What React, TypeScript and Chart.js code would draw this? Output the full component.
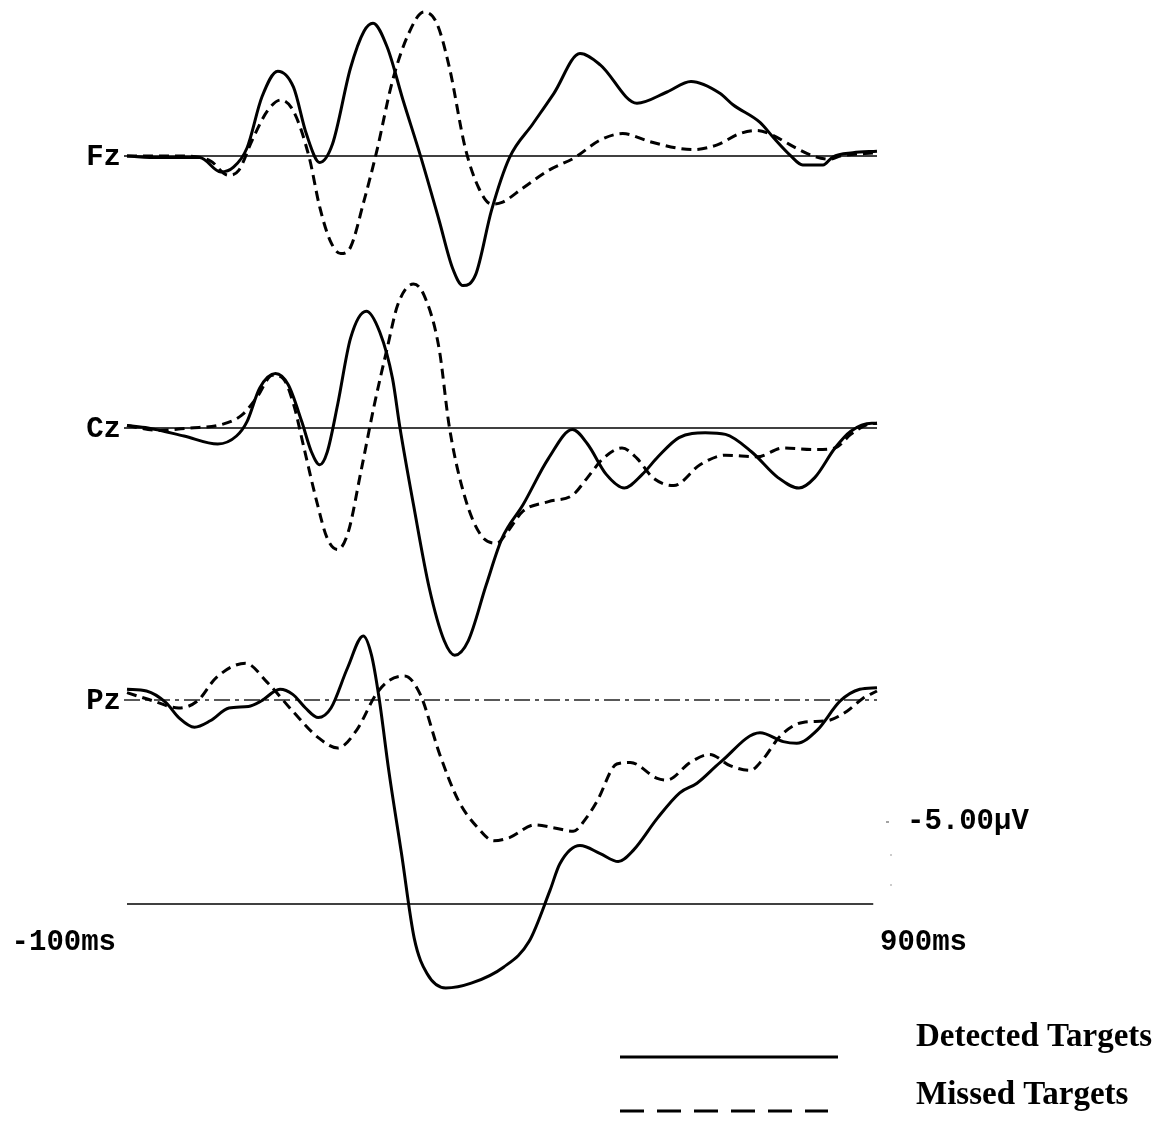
import React, { useEffect, useRef } from "react";
import { Chart, registerables } from "chart.js";

Chart.register(...registerables);

// ---- labels ----
const channels = ["Fz", "Cz", "Pz"];
const channelOffsets = [0, 17, 34]; // µV offsets used to stack the channels
const timeAxisLevel = 46.75; // µV level of the time axis line
const calibrationUV = 5;
const calibrationLabel = "-5.00µV";
const timeStart = -100;
const timeEnd = 900;
const timeTickLabels = ["-100ms", "900ms"];
const legendLabels = ["Detected Targets", "Missed Targets"];

// ---- data (ms, µV; positive plotted downward) ----
const fzDetectedT = [-100, -58, -3, 25, 42, 60, 80, 101, 122, 139, 157, 174, 198, 216, 228, 247, 268, 292, 316, 334, 348, 365, 386, 410, 441, 469, 504, 531, 580, 620, 652, 691, 708, 744, 761, 784, 801, 828, 841, 868, 900];
const fzDetectedV = [0, 0.1, 0.1, 1.0, 0.7, -0.5, -3.7, -5.3, -4.3, -1.4, 0.4, -0.75, -5.5, -7.8, -8.3, -6.8, -3.5, 0.1, 4.0, 7.0, 8.1, 7.4, 3.4, 0.1, -2.0, -3.9, -6.4, -5.7, -3.3, -4.0, -4.65, -3.9, -3.2, -2.1, -1.2, -0.06, 0.56, 0.56, 0.06, -0.2, -0.3];

const fzMissedT = [-100, -24, 11, 35, 49, 67, 87, 105, 122, 143, 157, 171, 185, 198, 216, 233, 254, 275, 296, 313, 330, 351, 369, 386, 400, 428, 462, 497, 531, 561, 597, 633, 655, 687, 717, 740, 761, 788, 815, 837, 851, 900];
const fzMissedV = [0, 0, 0.3, 1.2, 0.9, -1.0, -2.8, -3.5, -2.8, 0.1, 3.2, 5.3, 6.1, 5.7, 2.8, -0.3, -4.7, -7.6, -9.0, -8.3, -5.5, -0.5, 2.0, 3.0, 2.9, 2.0, 0.9, 0.1, -1.0, -1.4, -0.9, -0.5, -0.4, -0.7, -1.4, -1.6, -1.3, -0.6, 0, 0.2, 0, -0.2];

const czDetectedT = [-100, -72, -24, 21, 46, 60, 77, 98, 115, 133, 146, 157, 167, 181, 198, 219, 237, 254, 264, 282, 303, 323, 337, 355, 379, 400, 428, 462, 494, 514, 539, 563, 587, 608, 636, 671, 698, 733, 768, 796, 817, 844, 865, 893, 900];
const czDetectedV = [-0.15, 0, 0.5, 1.0, 0.5, -0.4, -2.5, -3.4, -2.7, -0.4, 1.5, 2.3, 1.5, -1.5, -5.6, -7.3, -6.0, -3.1, 0, 4.8, 10.0, 13.3, 14.2, 13.3, 9.8, 6.9, 4.8, 1.9, 0.1, 1.0, 2.9, 3.75, 2.9, 1.8, 0.6, 0.3, 0.4, 1.5, 3.1, 3.75, 3.1, 1.25, 0.2, -0.3, -0.3];

const czMissedT = [-100, -58, -17, 25, 53, 73, 94, 108, 122, 136, 153, 167, 181, 195, 212, 230, 247, 261, 282, 296, 316, 330, 351, 372, 393, 407, 428, 462, 494, 514, 535, 560, 580, 601, 629, 664, 698, 740, 775, 817, 844, 865, 886, 900];
const czMissedV = [-0.15, 0.15, 0, -0.2, -0.8, -1.9, -3.3, -3.1, -1.5, 1.25, 4.6, 6.9, 7.6, 6.5, 2.7, -1.5, -5.0, -7.7, -9.0, -8.3, -5.0, 0, 4.4, 6.7, 7.2, 6.5, 5.2, 4.6, 4.2, 3.1, 1.9, 1.25, 1.9, 3.1, 3.6, 2.3, 1.7, 1.8, 1.25, 1.35, 1.25, 0.4, -0.2, -0.3];

const pzDetectedT = [-100, -74, -48, -31, -10, 11, 36, 62, 79, 104, 121, 138, 155, 172, 194, 215, 226, 236, 249, 266, 283, 300, 325, 359, 402, 436, 464, 477, 504, 531, 555, 575, 607, 637, 660, 691, 744, 775, 793, 820, 851, 877, 900];
const pzDetectedV = [-0.67, -0.56, 0.17, 1.1, 1.7, 1.3, 0.5, 0.4, 0.06, -0.67, -0.35, 0.5, 1.1, 0.5, -2.0, -4.0, -2.8, -0.15, 4.4, 9.6, 14.9, 17.1, 18.0, 17.7, 16.7, 15.1, 11.9, 10.25, 9.1, 9.6, 10.1, 9.4, 7.4, 5.8, 5.2, 3.9, 2.05, 2.6, 2.7, 1.9, 0.06, -0.67, -0.77];

const pzMissedT = [-100, -65, -31, -6, 19, 58, 87, 121, 155, 181, 206, 232, 249, 270, 291, 317, 342, 368, 389, 410, 444, 470, 495, 512, 527, 553, 571, 607, 620, 651, 677, 704, 731, 748, 771, 801, 833, 860, 881, 900];
const pzMissedV = [-0.46, 0.06, 0.5, 0.06, -1.4, -2.3, -1.1, 0.7, 2.35, 3.0, 1.9, -0.35, -1.2, -1.5, -0.35, 3.4, 6.3, 8.0, 8.8, 8.6, 7.8, 8.0, 8.2, 7.4, 6.3, 4.0, 3.9, 4.9, 5.0, 3.9, 3.4, 4.1, 4.4, 3.7, 2.25, 1.4, 1.3, 0.7, -0.1, -0.56];

const detectedSeries = [
  [fzDetectedT, fzDetectedV],
  [czDetectedT, czDetectedV],
  [pzDetectedT, pzDetectedV],
];
const missedSeries = [
  [fzMissedT, fzMissedV],
  [czMissedT, czMissedV],
  [pzMissedT, pzMissedV],
];

const SOLID: number[] = [];
const DASH = [10, 6];
const LEGEND_DASH = [24, 13];
const MONO = 'bold 29px "Liberation Mono", "Courier New", monospace';
const SERIF = 'bold 33px "Liberation Serif", "Times New Roman", serif';

function trace(t: number[], v: number[], off: number, dashed: boolean, label: string) {
  return {
    label,
    data: t.map((tt, i) => ({ x: tt, y: v[i] + off })),
    borderColor: "#000",
    borderWidth: 3,
    borderDash: dashed ? DASH : SOLID,
    pointRadius: 0,
    cubicInterpolationMode: "monotone" as const,
    fill: false,
    clip: false as const,
  };
}

function hline(level: number, from: number, to: number, dash: number[], width: number, color: string) {
  return {
    label: "",
    data: [
      { x: from, y: level },
      { x: to, y: level },
    ],
    borderColor: color,
    borderWidth: width,
    borderDash: dash,
    pointRadius: 0,
    fill: false,
    clip: false as const,
  };
}

const annotations = {
  id: "erpAnnotations",
  afterDraw(chart: any) {
    const { ctx } = chart;
    const x = chart.scales.x;
    const y = chart.scales.y;
    ctx.save();
    ctx.fillStyle = "#000";
    ctx.strokeStyle = "#000";

    // channel labels
    ctx.font = MONO;
    ctx.textBaseline = "middle";
    ctx.textAlign = "right";
    channels.forEach((name, i) => {
      ctx.fillText(name, x.getPixelForValue(timeStart) - 6, y.getPixelForValue(channelOffsets[i]) + 2);
    });

    // time labels
    const ty = y.getPixelForValue(timeAxisLevel) + 39;
    ctx.textAlign = "right";
    ctx.fillText(timeTickLabels[0], x.getPixelForValue(timeStart) - 11, ty);
    ctx.textAlign = "left";
    ctx.fillText(timeTickLabels[1], x.getPixelForValue(timeEnd) + 3, ty);

    // calibration bar
    const cx = x.getPixelForValue(timeEnd) + 14;
    const cTop = y.getPixelForValue(timeAxisLevel - calibrationUV);
    const cBot = y.getPixelForValue(timeAxisLevel);
    ctx.strokeStyle = "#999";
    ctx.lineWidth = 1;
    ctx.setLineDash([2, 28]);
    ctx.beginPath();
    ctx.moveTo(cx, cTop + 30);
    ctx.lineTo(cx, cBot);
    ctx.stroke();
    ctx.setLineDash([]);
    ctx.strokeStyle = "#666";
    ctx.lineWidth = 1.2;
    ctx.beginPath();
    ctx.moveTo(cx - 5, cTop - 2);
    ctx.lineTo(cx - 2, cTop - 2);
    ctx.stroke();
    ctx.fillStyle = "#000";
    ctx.textAlign = "left";
    ctx.fillText(calibrationLabel, cx + 16, cTop - 2);

    // legend
    const ds = chart.data.datasets;
    const items = [ds[0], ds[1]];
    const lineY = [1057, 1111];
    const textY = [1037, 1095];
    const lineLen = [218, 208];
    items.forEach((d: any, i: number) => {
      ctx.strokeStyle = d.borderColor;
      ctx.lineWidth = 3;
      ctx.setLineDash(i === 0 ? [] : LEGEND_DASH);
      ctx.beginPath();
      ctx.moveTo(620, lineY[i]);
      ctx.lineTo(620 + lineLen[i], lineY[i]);
      ctx.stroke();
      ctx.setLineDash([]);
      ctx.font = SERIF;
      ctx.fillStyle = "#000";
      ctx.textAlign = "left";
      ctx.textBaseline = "middle";
      ctx.fillText(legendLabels[i], 916, textY[i]);
    });
    ctx.restore();
  },
};

export default function App() {
  const ref = useRef<HTMLCanvasElement | null>(null);

  useEffect(() => {
    if (!ref.current) return;
    const datasets: any[] = [];
    datasets.push(trace(detectedSeries[0][0], detectedSeries[0][1], channelOffsets[0], false, legendLabels[0]));
    datasets.push(trace(missedSeries[0][0], missedSeries[0][1], channelOffsets[0], true, legendLabels[1]));
    for (let i = 1; i < channels.length; i++) {
      datasets.push(trace(detectedSeries[i][0], detectedSeries[i][1], channelOffsets[i], false, legendLabels[0]));
      datasets.push(trace(missedSeries[i][0], missedSeries[i][1], channelOffsets[i], true, legendLabels[1]));
    }
    datasets.push(hline(channelOffsets[0], -104, timeEnd, [], 1.6, "#000"));
    datasets.push(hline(channelOffsets[1], -104, timeEnd, [], 1.6, "#000"));
    datasets.push(hline(channelOffsets[2], -104, timeEnd, [16, 5, 4, 5], 1.4, "#222"));
    datasets.push(hline(timeAxisLevel, timeStart, 895, [], 1.6, "#000"));

    const chart = new Chart(ref.current, {
      type: "line",
      data: { datasets },
      options: {
        animation: false,
        responsive: false,
        events: [],
        layout: { padding: { left: 127, right: 290, top: 0, bottom: 0 } },
        scales: {
          x: { type: "linear", min: timeStart, max: timeEnd, display: false },
          y: { type: "linear", min: -9.75, max: 60.5, reverse: true, display: false },
        },
        plugins: {
          legend: { display: false },
          tooltip: { enabled: false },
        },
      },
      plugins: [annotations],
    });
    return () => chart.destroy();
  }, []);

  return (
    <div style={{ position: "absolute", left: 0, top: 0, width: 1167, height: 1124, background: "#fff" }}>
      <canvas ref={ref} width={1167} height={1124} />
    </div>
  );
}
